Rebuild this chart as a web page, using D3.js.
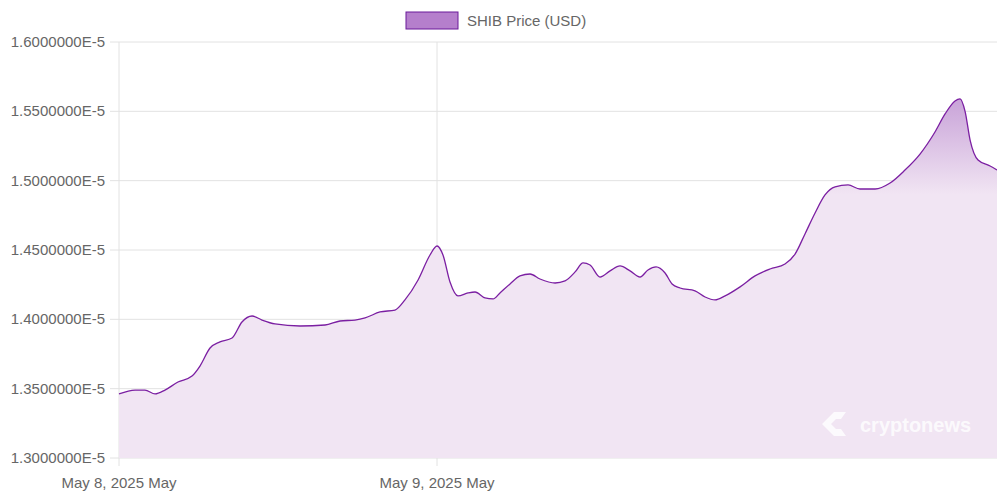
<!DOCTYPE html>
<html><head><meta charset="utf-8">
<script src="https://cdn.jsdelivr.net/npm/d3@7"></script>
<style>body{margin:0;background:#fff;font-family:"Liberation Sans",Arial,sans-serif}</style>
</head><body><div id="chart"></div>
<script>
// hours after May 8, 2025 00:00
var hours = [0,1.21,1.96,2.72,3.47,4.45,5.51,6.11,6.87,7.62,8.53,9.28,10.04,10.79,11.77,13.66,15.55,16.68,17.81,18.57,19.70,20.83,21.58,22.57,23.47,24,24.45,24.98,25.58,26.34,26.87,27.62,28.23,28.75,29.51,30.26,31.02,31.77,32.91,33.66,34.42,35.02,35.55,36.30,37.06,37.81,38.57,39.32,39.92,40.53,41.21,41.74,42.34,43.47,44.23,44.98,45.74,46.87,48.00,49.13,50.26,51.02,51.77,52.53,53.28,54.04,55.02,55.92,57.06,58.19,59.32,60.45,61.58,62.34,63.09,63.47,63.85,64.23,64.83,65.74,66.26];
// price in units of 1e-5 USD
var prices = [1.3462,1.3490,1.3490,1.3462,1.3490,1.3548,1.3591,1.3663,1.3793,1.3837,1.3865,1.3981,1.4024,1.3995,1.3967,1.3952,1.3959,1.3988,1.3995,1.4010,1.4053,1.4067,1.4140,1.4284,1.4464,1.4529,1.4464,1.4269,1.4169,1.4190,1.4197,1.4154,1.4147,1.4190,1.4255,1.4313,1.4327,1.4291,1.4262,1.4277,1.4342,1.4407,1.4392,1.4305,1.4349,1.4385,1.4349,1.4305,1.4356,1.4378,1.4334,1.4255,1.4226,1.4205,1.4161,1.4140,1.4169,1.4234,1.4313,1.4363,1.4399,1.4471,1.4616,1.4767,1.4897,1.4955,1.4969,1.4940,1.4940,1.4983,1.5077,1.5192,1.5351,1.5481,1.5575,1.5590,1.5500,1.5293,1.5149,1.5106,1.5077];
var yTicks = [1.30,1.35,1.40,1.45,1.50,1.55,1.60];
var xTicks = [0,24];
var xTickLabels = ["May 8, 2025 May","May 9, 2025 May"];

var W = 997, H = 497, m = {l:119, r:0, t:42, b:39};
var svg = d3.select("#chart").append("svg").attr("width",W).attr("height",H);
var x = d3.scaleLinear().domain([0,66.26]).range([m.l, W-m.r]);
var y = d3.scaleLinear().domain([1.3,1.6]).range([H-m.b, m.t]);

var g = svg.append("defs").append("linearGradient").attr("id","fillg")
  .attr("gradientUnits","userSpaceOnUse").attr("x1",0).attr("x2",0).attr("y1",y(1.56)).attr("y2",y(1.49));
g.append("stop").attr("offset",0).attr("stop-color","#c8a2d8");
g.append("stop").attr("offset",1).attr("stop-color","#f1e5f3");

// grid
svg.selectAll(".yg").data(yTicks).enter().append("line")
  .attr("x1",m.l-9).attr("x2",W).attr("y1",d=>y(d)).attr("y2",d=>y(d))
  .attr("stroke","#e2e2e2");
svg.selectAll(".xg").data(xTicks).enter().append("line")
  .attr("x1",d=>x(d)).attr("x2",d=>x(d)).attr("y1",m.t).attr("y2",H-m.b+8)
  .attr("stroke","#e2e2e2");
svg.selectAll(".yl").data(yTicks).enter().append("text")
  .attr("x",m.l-14).attr("y",d=>y(d)+5).attr("text-anchor","end")
  .attr("font-size",15).attr("fill","#666").text(d=>d.toFixed(7)+"E-5");
svg.selectAll(".xl").data(xTicks).enter().append("text")
  .attr("x",d=>x(d)).attr("y",H-9).attr("text-anchor","middle")
  .attr("font-size",15).attr("fill","#666").text((d,i)=>xTickLabels[i]);

var data = hours.map((h,i)=>({h:h,v:prices[i]}));
var area = d3.area().x(d=>x(d.h)).y0(y(1.3)).y1(d=>y(d.v)).curve(d3.curveMonotoneX);
var line = d3.line().x(d=>x(d.h)).y(d=>y(d.v)).curve(d3.curveMonotoneX);
svg.append("path").datum(data).attr("d",area).attr("fill","url(#fillg)");
svg.append("path").datum(data).attr("d",line).attr("fill","none").attr("stroke","#7b1fa2").attr("stroke-width",1.3);

// watermark
svg.append("text").attr("x",860).attr("y",432).attr("font-size",20).attr("font-weight","bold")
  .attr("fill","#fff").attr("fill-opacity",0.8).text("cryptonews");
svg.append("path").attr("d","M822,424 l12,-12 l12,0 l-5,7 l-5,0 l-5,5 l5,5 l5,0 l5,7 l-12,0 z")
  .attr("fill","#fff").attr("fill-opacity",0.8);

// legend
svg.append("rect").attr("x",406).attr("y",12).attr("width",52).attr("height",17)
  .attr("fill","#b57fcc").attr("stroke","#6a1b9a");
svg.append("text").attr("x",467).attr("y",26).attr("font-size",15).attr("fill","#666").text("SHIB Price (USD)");
</script></body></html>
